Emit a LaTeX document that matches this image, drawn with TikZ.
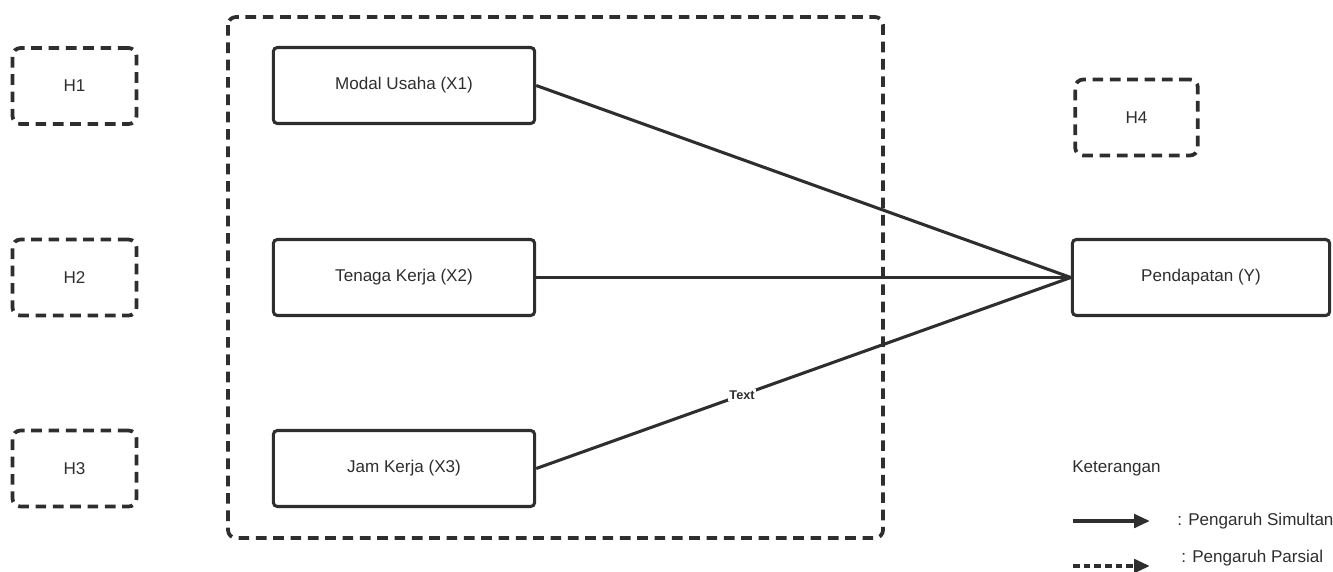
\documentclass[tikz,border=0pt]{standalone}
\usepackage{fontspec}
\setmainfont{Liberation Sans}
\usetikzlibrary{arrows.meta}
\definecolor{ink}{HTML}{2E2E2E}
\tikzset{
  px/.style={x=0.75pt,y=-0.75pt},
  var/.style={draw=ink,line width=2.3pt,rounded corners=3pt,minimum width=196pt,minimum height=57pt,inner sep=0pt,font=\fontsize{12.8}{15}\selectfont,text=ink},
  hyp/.style={draw=ink,line width=2.8pt,dash pattern=on 8pt off 5pt,rounded corners=6pt,minimum width=93pt,minimum height=57pt,inner sep=0pt,font=\fontsize{12.8}{15}\selectfont,text=ink},
  link/.style={draw=ink,line width=2.3pt},
  lbl/.style={font=\fontsize{12.8}{15}\selectfont,text=ink,inner sep=0pt,anchor=west}
}
\begin{document}
\begin{tikzpicture}[px]
\useasboundingbox (0,0) rectangle (1333,571);
\draw[draw=ink,line width=2.8pt,dash pattern=on 8pt off 5pt,rounded corners=6pt] (228,17) rectangle (883,538);
\node[hyp] (h1) at (74.5,86) {H1};
\node[hyp] (h2) at (74.5,277.5) {H2};
\node[hyp] (h3) at (74.5,468.5) {H3};
\node[hyp,minimum width=92pt] (h4) at (1136.5,117.5) {H4};
\node[var] (x1) at (404,85.5) {Modal Usaha (X1)};
\node[var] (x2) at (404,277.5) {Tenaga Kerja (X2)};
\node[var] (x3) at (404,468.5) {Jam Kerja (X3)};
\node[var,minimum width=193pt] (y) at (1201,277.5) {Pendapatan (Y)};
\draw[link] (x1.east) -- (y.west);
\draw[link] (x2.east) -- (y.west);
\draw[link] (x3.east) -- node[pos=0.385,fill=white,inner sep=1pt,font=\bfseries\fontsize{9.5}{11}\selectfont,text=ink] {Text} (y.west);
\node[lbl] (ket) at (1072,468) {Keterangan};
\coordinate (s1) at (1073,521);
\coordinate (s2) at (1150,521);
\coordinate (p1) at (1073,566);
\coordinate (p2) at (1150,566);
\draw[link,line width=3pt,-{Triangle[length=12pt,width=10pt]}] (s1) -- (s2);
\draw[link,line width=3pt,dash pattern=on 5pt off 3pt,-{Triangle[length=12pt,width=10pt]}] (p1) -- (p2);
\node[lbl] (sim) at (1177,521) {: Pengaruh Simultan};
\node[lbl] (par) at (1181,558) {: Pengaruh Parsial};
\end{tikzpicture}
\end{document}
